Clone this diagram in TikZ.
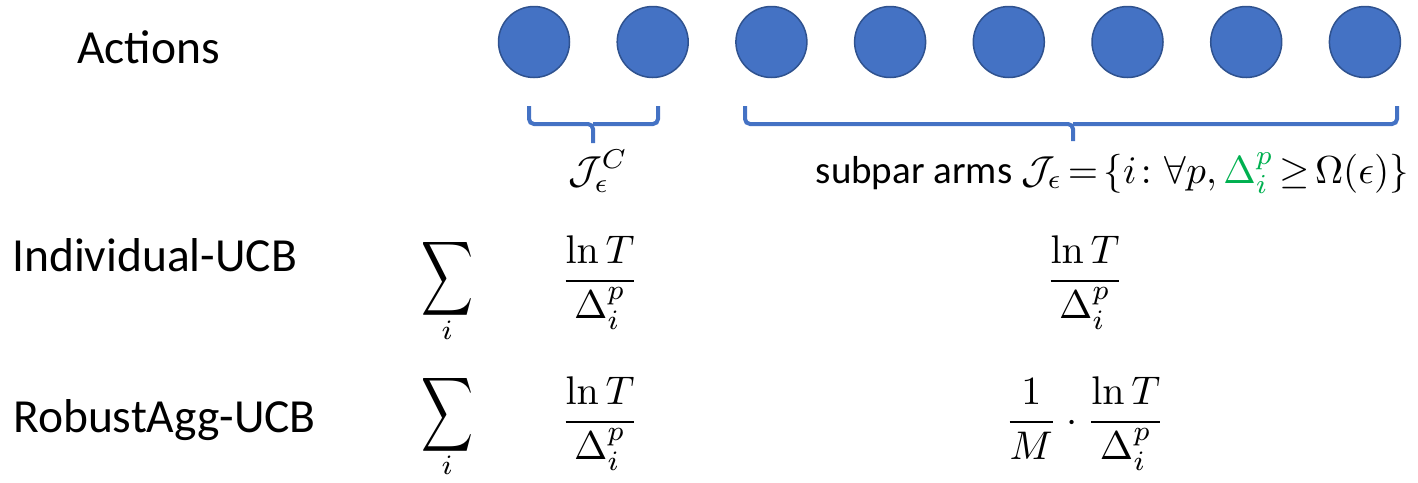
\documentclass[tikz,border=0pt]{standalone}
\usepackage{amsmath,amssymb}
\usepackage[no-math]{fontspec}
\setmainfont{Carlito}
\definecolor{cblue}{HTML}{4472C4}
\definecolor{cedge}{HTML}{2F528F}
\definecolor{cgreen}{HTML}{00B050}
\tikzset{
  arm/.style={circle, minimum size=71pt, inner sep=0pt, fill=cblue, draw=cedge, line width=1.5pt},
  brace/.style={draw=cblue, line width=4pt, rounded corners=5pt},
  lab/.style={anchor=base west, inner sep=0pt, font=\fontsize{47.5}{54}\selectfont},
  mth/.style={anchor=base, inner sep=0pt, scale=4},
  sumst/.style={anchor=base, inner sep=0pt, xscale=3.6, yscale=5.2},
  idx/.style={anchor=base, inner sep=0pt, scale=4},
  settxt/.style={anchor=base, inner sep=0pt, scale=3.9},
}
\begin{document}
\begin{tikzpicture}[x=1pt,y=-1pt]
\path[use as bounding box] (0,0) rectangle (1418,482);
% arms
\foreach \i in {1,...,8}{
  \node[arm] (a\i) at ({534+(\i-1)*118.7},42) {};
}
% braces
\coordinate (bl1) at (529,106);
\coordinate (bl2) at (658,106);
\coordinate (blm) at (593,124);
\coordinate (blt) at (593,143);
\coordinate (br1) at (745,106);
\coordinate (br2) at (1397,106);
\coordinate (brm) at (1073,124);
\coordinate (brt) at (1073,141);
\draw[brace] (bl1) |- (blm) -- (blt);
\draw[brace] (bl2) |- (blm);
\draw[brace] (br1) |- (brm) -- (brt);
\draw[brace] (br2) |- (brm);
% labels
\node[lab] (actions) at (77,63) {Actions};
\node[lab] (indiv) at (12,271) {Individual-UCB};
\node[lab] (robust) at (13,432) {RobustAgg-UCB};
% set labels
\node[settxt] (jc) at (598,183) {$\mathcal{J}_\epsilon^{C}$};
\node[settxt, anchor=base west] (jsub) at (815,183) {subpar arms $\thickmuskip=2.5mu\mathcal{J}_\epsilon = \{i\colon \forall p, \textcolor{cgreen}{\Delta_i^p} \geq \Omega(\epsilon)\}$};
% row 1
\node[sumst] (s1) at (447,292) {$\displaystyle\sum$};
\node[idx] (s1i) at (447,339) {$\scriptstyle i$};
\node[mth] (f1) at (600,291) {$\displaystyle\frac{\ln T}{\Delta_i^p}$};
\node[mth] (g1) at (1085,291) {$\displaystyle\frac{\ln T}{\Delta_i^p}$};
% row 2
\node[sumst] (s2) at (447,428) {$\displaystyle\sum$};
\node[idx] (s2i) at (447,474) {$\scriptstyle i$};
\node[mth] (f2) at (600,432) {$\displaystyle\frac{\ln T}{\Delta_i^p}$};
\node[mth] (g2) at (1085,432) {$\displaystyle\frac{1}{M}\cdot\frac{\ln T}{\Delta_i^p}$};
\end{tikzpicture}
\end{document}
